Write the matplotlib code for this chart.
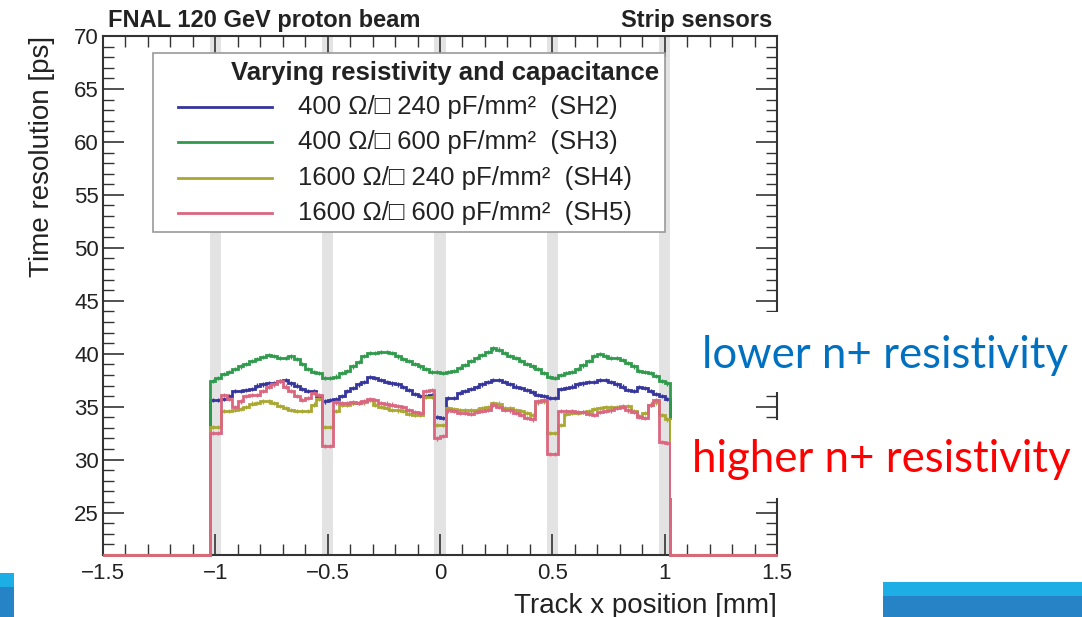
import numpy as np
import matplotlib.pyplot as plt
from matplotlib.lines import Line2D
from matplotlib.patches import Rectangle

# ____________________________________________________________________________________________________
# Data 📊

# histogram binning (mm)
bin_lo = -1.025
bin_width = 0.025

# time resolution per bin [ps]
sh2 = [35.66, 35.66, 35.7, 36.0, 36.45, 36.5, 36.6, 36.65, 37.0, 37.1, 37.2, 37.2, 37.4, 37.5, 37.2, 37.0, 36.65, 36.5, 36.45,
       36.0, 35.5, 35.6, 35.7, 36.0, 36.45, 36.75, 37.1, 37.3, 37.8, 37.7, 37.5, 37.3, 37.2, 37.1, 36.85, 36.6, 36.2, 36.0, 36.0, 36.1,
       34.0, 33.9, 35.8, 35.8, 36.3, 36.45, 36.65, 36.85, 37.1, 37.3, 37.55, 37.5, 37.3, 37.15, 36.9, 36.75, 36.6, 36.35, 36.1, 36.0, 35.8, 35.8,
       36.65, 36.75, 36.9, 37.1, 37.2, 37.3, 37.3, 37.5, 37.5, 37.3, 37.1, 36.9, 36.6, 36.45, 36.85, 36.75, 36.45, 36.2, 36.0, 35.7]
sh3 = [37.4, 37.7, 38.1, 38.3, 38.55, 38.8, 39.05, 39.3, 39.5, 39.7, 39.9, 39.8, 39.6, 39.6, 39.75, 39.5, 39.0, 38.55, 38.3, 38.2,
       37.7, 37.7, 37.85, 38.2, 38.4, 38.8, 39.2, 39.8, 40.05, 40.1, 40.2, 40.2, 40.1, 39.75, 39.5, 39.3, 39.05, 38.8, 38.55, 38.3,
       38.3, 38.2, 38.3, 38.4, 38.65, 38.95, 39.3, 39.6, 39.9, 40.2, 40.5, 40.4, 40.05, 39.8, 39.6, 39.3, 39.05, 38.8, 38.55, 38.2,
       37.8, 37.7, 38.0, 38.2, 38.3, 38.55, 38.9, 39.3, 39.8, 40.0, 39.75, 39.6, 39.6, 39.4, 39.1, 38.8, 38.4, 38.3, 38.2, 37.9,
       37.4, 37.2]
sh4 = [33.1, 33.1, 34.6, 34.6, 34.7, 34.8, 35.0, 35.3, 35.35, 35.5, 35.5, 35.35, 35.1, 34.9, 34.7, 34.6, 34.6, 34.6, 35.2, 35.7,
       33.1, 33.1, 34.6, 35.2, 35.2, 35.35, 35.35, 35.4, 35.6, 35.2, 35.0, 34.9, 34.7, 34.65, 34.6, 34.35, 34.25, 34.25, 35.9, 35.9,
       33.3, 33.3, 34.9, 34.8, 34.65, 34.65, 34.65, 34.65, 34.9, 35.0, 35.35, 35.3, 34.9, 34.9, 34.7, 34.6, 34.4, 34.25, 35.4, 35.5,
       32.5, 32.5, 33.3, 34.3, 34.4, 34.4, 34.5, 34.6, 34.8, 34.9, 35.0, 35.0, 35.0, 35.1, 35.1, 34.6, 34.1, 34.4, 35.2, 35.4,
       34.2, 33.8]
sh5 = [32.5, 32.5, 36.1, 35.7, 35.0, 35.5, 36.0, 36.1, 36.1, 36.45, 36.9, 37.1, 37.4, 36.9, 36.45, 36.0, 35.66, 35.8, 36.3, 36.1,
       31.3, 31.3, 35.4, 35.35, 35.35, 35.4, 35.35, 35.5, 35.7, 35.6, 35.35, 35.3, 35.2, 35.1, 35.0, 34.7, 34.5, 34.4, 36.45, 36.6,
       32.0, 32.2, 34.65, 34.6, 34.4, 34.4, 34.35, 34.5, 34.6, 34.7, 35.2, 35.0, 34.7, 34.65, 34.4, 34.25, 33.9, 33.8, 35.5, 35.66,
       30.5, 30.5, 34.6, 34.6, 34.6, 34.5, 34.5, 34.35, 34.25, 34.5, 34.6, 34.65, 34.9, 35.0, 34.65, 34.5, 34.0, 33.9, 35.2, 35.66,
       31.7, 31.6]

series = [sh2, sh3, sh4, sh5]
labels = ["400 Ω/□ 240 pF/mm²  (SH2)",
          "400 Ω/□ 600 pF/mm²  (SH3)",
          "1600 Ω/□ 240 pF/mm²  (SH4)",
          "1600 Ω/□ 600 pF/mm²  (SH5)"]
colors = ["#35359d", "#2f9a4c", "#a9a833", "#da6680"]

# strip gaps (mm)
gaps = [-1.0, -0.5, 0.0, 0.5, 1.0]
gap_half = 0.025

x_range = (-1.5, 1.5)
y_range = (21, 70)
xticks = [-1.5, -1, -0.5, 0, 0.5, 1, 1.5]
xtick_labels = ["−1.5", "−1", "−0.5", "0", "0.5", "1", "1.5"]
yticks = [25, 30, 35, 40, 45, 50, 55, 60, 65, 70]

# ____________________________________________________________________________________________________
# Figure 🖼

W, H = 1082, 617
def fx(px): return px / W
def fy(py): return 1 - py / H

plt.rcParams['font.family'] = ['Liberation Sans', 'DejaVu Sans']
fig = plt.figure(figsize=(W / 100, H / 100), dpi=100)
ax = fig.add_axes([fx(103), fy(555), fx(777) - fx(103), fy(36) - fy(555)])

# strip gaps
for g in gaps:
    ax.axvspan(g - gap_half, g + gap_half, color='#e3e3e3', lw=0, zorder=0)

# histograms
n = len(sh2)
edges = np.concatenate([[x_range[0]], bin_lo + bin_width * np.arange(n + 1), [x_range[1]]])
centers = bin_lo + bin_width * (np.arange(n) + 0.5)
for vals, c in zip(series, colors):
    full = np.concatenate([[0], vals, [0]])
    ax.stairs(np.clip(full, y_range[0], None), edges, baseline=None, color=c, lw=2,
              clip_on=False, zorder=3)
    ax.errorbar(centers, vals, yerr=0.2, fmt='none', ecolor=c, elinewidth=1, zorder=3)

ax.set_xlim(*x_range)
ax.set_ylim(*y_range)
ax.set_xticks(xticks, xtick_labels)
ax.set_yticks(yticks)
ax.set_xticks(np.arange(-1.5, 1.51, 0.1), minor=True)
ax.set_yticks(np.arange(21, 71, 1), minor=True)
ax.tick_params(which='both', direction='in', top=True, right=True, colors='#333333',
               labelsize=16, labelcolor='#222222')
ax.tick_params(which='major', length=15, width=1.2)
ax.tick_params(which='minor', length=8, width=1.0)
ax.tick_params(axis='x', pad=6)
ax.tick_params(axis='y', pad=3)
for s in ax.spines.values():
    s.set_color('#333333')
    s.set_linewidth(1.5)

ax.set_xlabel("Track x position [mm]", fontsize=20, color='#222222', loc='right', labelpad=6)
ax.set_ylabel("Time resolution [ps]", fontsize=20, color='#222222', loc='top', labelpad=14)

# legend box (drawn by hand to match the ROOT TLegend layout)
fig.patches.append(Rectangle((fx(153), fy(232)), fx(665) - fx(153), fy(53) - fy(232),
                             transform=fig.transFigure, facecolor='white', edgecolor='#999999',
                             lw=1.2, zorder=5))
fig.text(fx(445), fy(73), "Varying resistivity and capacitance", fontsize=18.5,
         fontweight='bold', color='#222222', ha='center', va='center', zorder=6)
rows = [107, 142, 178, 213]
for py, lab, c in zip(rows, labels, colors):
    fig.add_artist(Line2D([fx(178), fx(272)], [fy(py), fy(py)], color=c, lw=2,
                          transform=fig.transFigure, zorder=6))
    fig.text(fx(298), fy(py), lab, fontsize=18.5, color='#222222', ha='left', va='center', zorder=6)

# header texts
fig.text(fx(108), fy(27), "FNAL 120 GeV proton beam", fontsize=17, fontweight='bold',
         color='#222222', va='baseline')
fig.text(fx(772), fy(27), "Strip sensors", fontsize=17, fontweight='bold',
         color='#222222', ha='right', va='baseline')

# ____________________________________________________________________________________________________
# Slide overlays 🗒

def box(x0, y0, x1, y1, color):
    fig.patches.append(Rectangle((fx(x0), fy(y1)), fx(x1) - fx(x0), fy(y0) - fy(y1),
                                 transform=fig.transFigure, facecolor=color, lw=0, zorder=10))

box(685, 312, W, 392, 'white')
box(671, 420, W, 498, 'white')
fig.text(fx(885), fy(368), "lower n+ resistivity", fontsize=31.5, color='#0070c0',
         family='Lato', ha='center', va='baseline', zorder=11)
fig.text(fx(881), fy(472), "higher n+ resistivity", fontsize=31.5, color='#ff0000',
         family='Lato', ha='center', va='baseline', zorder=11)

box(0, 573, 14, 587, '#1caee4')
box(0, 587, 14, H, '#2683c6')
box(883, 582, W, 596, '#1caee4')
box(883, 596, W, H, '#2683c6')

fig.savefig("out.png", dpi=100)
